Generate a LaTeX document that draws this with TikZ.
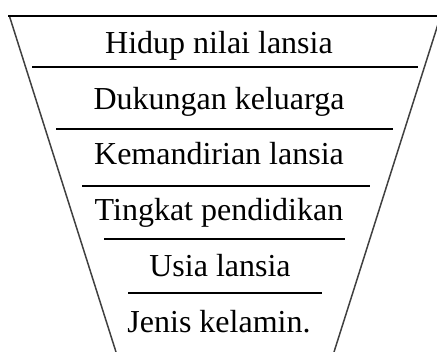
\documentclass[tikz,border=0pt]{standalone}
\usepackage{fontspec}
\setmainfont{Liberation Serif}
\begin{document}
\begin{tikzpicture}[x=1pt,y=-1pt,
  lbl/.style={anchor=base,inner sep=0pt,font=\fontsize{32}{38}\selectfont},
  rule/.style={line width=1.8pt,black},
  side/.style={line width=1.5pt,black!75}]
\useasboundingbox (0,0) rectangle (437,352);
\begin{scope}
\clip (0,0) rectangle (437,352);
\draw[side] (9.4,16) -- (116,352);
\draw[side] (440.6,16) -- (334,352);
\draw[rule] (8,16) -- (440,16);
\end{scope}
\draw[rule] (32,67) -- (418,67);
\draw[rule] (56,129) -- (393,129);
\draw[rule] (82,186) -- (370,186);
\draw[rule] (104,239) -- (345,239);
\draw[rule] (128,293) -- (322,293);
\node[lbl] (t1) at (219,54) {Hidup nilai lansia};
\node[lbl] (t2) at (219,110) {Dukungan keluarga};
\node[lbl] (t3) at (219,165) {Kemandirian lansia};
\node[lbl] (t4) at (219,221) {Tingkat pendidikan};
\node[lbl] (t5) at (220,277) {Usia lansia};
\node[lbl] (t6) at (219,333) {Jenis kelamin.};
\end{tikzpicture}
\end{document}
